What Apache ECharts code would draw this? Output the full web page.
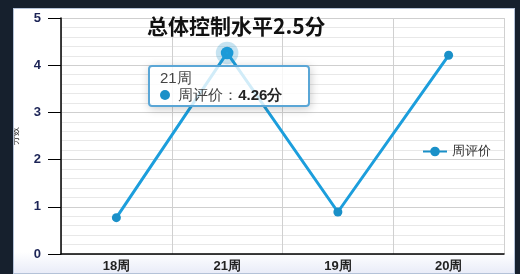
<!DOCTYPE html>
<html>
<head>
<meta charset="utf-8">
<script src="https://cdn.jsdelivr.net/npm/echarts@6/dist/echarts.min.js"></script>
<style>
  html, body { margin: 0; padding: 0; }
  body { width: 520px; height: 274px; background: #16202d; position: relative; overflow: hidden; }
  #main {
    position: absolute; left: 13px; top: 8px; width: 500px; height: 264px;
    border: 1px solid #b4c2d8;
    background: linear-gradient(to bottom, #ffffff 0%, #ffffff 92%, #e9ecf8 100%);
  }
</style>
</head>
<body>
<div id="main"></div>
<script>
// 数据
var weeks = ['18周', '21周', '19周', '20周'];
var scores = [0.77, 4.26, 0.89, 4.21];
var seriesName = '周评价';
var titleText = '总体控制水平2.5分';

var myChart = echarts.init(document.getElementById('main'));

var option = {
  animation: false,
  title: {
    text: titleText,
    left: 128,
    top: 2,
    textStyle: { fontSize: 21, fontWeight: 'bold', color: '#111', fontFamily: 'Noto Sans CJK SC' }
  },
  tooltip: {
    trigger: 'item',
    position: [134, 56],
    backgroundColor: 'rgba(255,255,255,0.8)',
    borderColor: '#5aa6d6',
    borderWidth: 2,
    padding: [2, 26, 2, 10],
    textStyle: { color: '#444', fontSize: 15, lineHeight: 17 },
    extraCssText: 'line-height:17px;',
    formatter: function (p) {
      return p.name + '<br/>' + p.marker + ' ' + seriesName + '：<b style="color:#222">' + p.value + '分</b>';
    }
  },
  legend: {
    data: [seriesName],
    left: 403,
    top: 131,
    itemWidth: 24,
    itemHeight: 12,
    textStyle: { fontSize: 13, color: '#333' }
  },
  grid: { left: 47, top: 9, right: 10, bottom: 19, outerBoundsMode: 'none' },
  xAxis: {
    type: 'category',
    data: weeks,
    boundaryGap: true,
    axisLine: { lineStyle: { color: '#000', width: 1.5 } },
    axisTick: { length: 6, lineStyle: { color: '#000' } },
    axisLabel: { color: '#222', fontWeight: 'bold', fontSize: 13, margin: 6 },
    splitLine: { show: true, lineStyle: { color: '#d0d0d0' } }
  },
  yAxis: {
    type: 'value',
    min: 0,
    max: 5,
    interval: 1,
    name: '分数',
    nameLocation: 'middle',
    nameGap: 41,
    nameTextStyle: { fontSize: 9, color: '#222' },
    axisLine: { show: true, lineStyle: { color: '#000', width: 1.5 } },
    axisTick: { show: true, length: 13, lineStyle: { color: '#000' } },
    axisLabel: { color: '#1c2456', fontWeight: 'bold', fontSize: 13, margin: 20 },
    splitLine: { lineStyle: { color: '#cfcfcf' } },
    minorTick: { show: false, splitNumber: 5 },
    minorSplitLine: { show: true, lineStyle: { color: '#e8e8e8' } }
  },
  series: [{
    name: seriesName,
    type: 'line',
    data: scores,
    symbol: 'circle',
    symbolSize: 9,
    color: '#1a90c8',
    lineStyle: { width: 3 },
    emphasis: {
      scale: 1.4,
      itemStyle: { borderColor: 'rgba(26,144,200,0.25)', borderWidth: 10 }
    }
  }]
};

myChart.setOption(option);
myChart.dispatchAction({ type: 'highlight', seriesIndex: 0, dataIndex: 1 });
myChart.dispatchAction({ type: 'showTip', seriesIndex: 0, dataIndex: 1 });
</script>
</body>
</html>
